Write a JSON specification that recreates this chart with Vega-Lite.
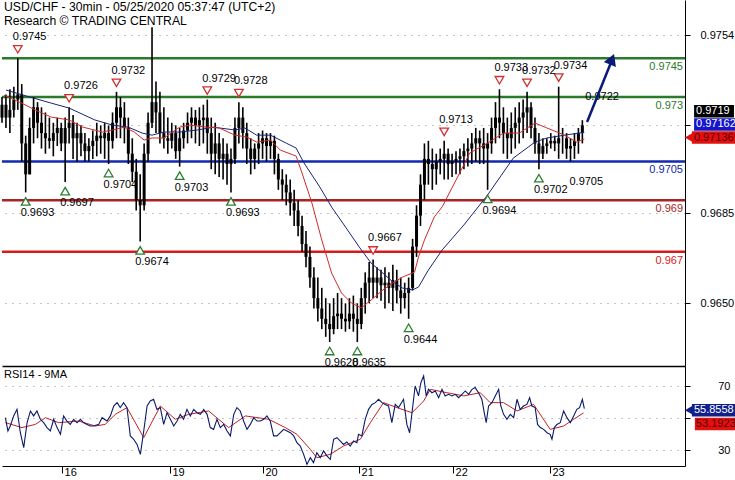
{
  "$schema": "https://vega.github.io/schema/vega-lite/v6.json",
  "padding": 0,
  "spacing": 0,
  "bounds": "flush",
  "config": {
    "view": {"stroke": null},
    "font": "Liberation Sans",
    "axis": {"labelFont": "Liberation Sans", "labelFontSize": 11, "labelColor": "black", "domainColor": "black", "tickColor": "black"},
    "text": {"font": "Liberation Sans", "fontSize": 11}
  },
  "datasets": {
    "ohlc": [
      {"t":0,"o":0.9722,"h":0.9730,"l":0.9720,"c":0.9727},
      {"t":2,"o":0.9727,"h":0.9731,"l":0.9718,"c":0.9722},
      {"t":4,"o":0.9722,"h":0.9733,"l":0.9716,"c":0.9725},
      {"t":6,"o":0.9725,"h":0.9734,"l":0.9722,"c":0.9729},
      {"t":8,"o":0.9729,"h":0.9745,"l":0.9725,"c":0.9731},
      {"t":10,"o":0.9731,"h":0.9735,"l":0.9705,"c":0.9712},
      {"t":12,"o":0.9712,"h":0.9715,"l":0.9693,"c":0.9700},
      {"t":14,"o":0.9700,"h":0.9722,"l":0.9700,"c":0.9718},
      {"t":16,"o":0.9718,"h":0.9730,"l":0.9712,"c":0.9726},
      {"t":18,"o":0.9726,"h":0.9728,"l":0.9714,"c":0.9720},
      {"t":20,"o":0.9720,"h":0.9726,"l":0.9710,"c":0.9716},
      {"t":22,"o":0.9716,"h":0.9724,"l":0.9708,"c":0.9714},
      {"t":24,"o":0.9714,"h":0.9722,"l":0.9710,"c":0.9713},
      {"t":26,"o":0.9713,"h":0.9720,"l":0.9707,"c":0.9716},
      {"t":28,"o":0.9716,"h":0.9722,"l":0.9711,"c":0.9718},
      {"t":30,"o":0.9718,"h":0.9720,"l":0.9709,"c":0.9712},
      {"t":32,"o":0.9712,"h":0.9722,"l":0.9697,"c":0.9718},
      {"t":34,"o":0.9718,"h":0.9726,"l":0.9712,"c":0.9720},
      {"t":36,"o":0.9720,"h":0.9723,"l":0.9706,"c":0.9714},
      {"t":38,"o":0.9714,"h":0.9720,"l":0.9705,"c":0.9716},
      {"t":40,"o":0.9716,"h":0.9719,"l":0.9707,"c":0.9712},
      {"t":42,"o":0.9712,"h":0.9716,"l":0.9705,"c":0.9709},
      {"t":44,"o":0.9709,"h":0.9714,"l":0.9705,"c":0.9711},
      {"t":46,"o":0.9711,"h":0.9717,"l":0.9706,"c":0.9713},
      {"t":48,"o":0.9713,"h":0.9720,"l":0.9707,"c":0.9715},
      {"t":50,"o":0.9715,"h":0.9719,"l":0.9708,"c":0.9714},
      {"t":52,"o":0.9714,"h":0.9720,"l":0.9706,"c":0.9716},
      {"t":54,"o":0.9716,"h":0.9719,"l":0.9704,"c":0.9713},
      {"t":56,"o":0.9713,"h":0.9724,"l":0.9710,"c":0.9720},
      {"t":58,"o":0.9720,"h":0.9732,"l":0.9714,"c":0.9726},
      {"t":60,"o":0.9726,"h":0.9730,"l":0.9714,"c":0.9722},
      {"t":62,"o":0.9722,"h":0.9728,"l":0.9712,"c":0.9718},
      {"t":64,"o":0.9718,"h":0.9722,"l":0.9704,"c":0.9708},
      {"t":66,"o":0.9708,"h":0.9714,"l":0.9697,"c":0.9701},
      {"t":68,"o":0.9701,"h":0.9706,"l":0.9686,"c":0.9690},
      {"t":70,"o":0.9690,"h":0.9700,"l":0.9674,"c":0.9688},
      {"t":72,"o":0.9688,"h":0.9712,"l":0.9686,"c":0.9708},
      {"t":74,"o":0.9708,"h":0.9724,"l":0.9705,"c":0.9720},
      {"t":76,"o":0.9720,"h":0.9757,"l":0.9718,"c":0.9728},
      {"t":78,"o":0.9728,"h":0.9736,"l":0.9716,"c":0.9724},
      {"t":80,"o":0.9724,"h":0.9732,"l":0.9712,"c":0.9716},
      {"t":82,"o":0.9716,"h":0.9726,"l":0.9710,"c":0.9714},
      {"t":84,"o":0.9714,"h":0.9722,"l":0.9708,"c":0.9713},
      {"t":86,"o":0.9713,"h":0.9720,"l":0.9710,"c":0.9716},
      {"t":88,"o":0.9716,"h":0.9719,"l":0.9706,"c":0.9709},
      {"t":90,"o":0.9709,"h":0.9718,"l":0.9703,"c":0.9714},
      {"t":92,"o":0.9714,"h":0.9720,"l":0.9710,"c":0.9717},
      {"t":94,"o":0.9717,"h":0.9724,"l":0.9712,"c":0.9720},
      {"t":96,"o":0.9720,"h":0.9726,"l":0.9714,"c":0.9722},
      {"t":98,"o":0.9722,"h":0.9725,"l":0.9712,"c":0.9719},
      {"t":100,"o":0.9719,"h":0.9726,"l":0.9711,"c":0.9721},
      {"t":102,"o":0.9721,"h":0.9727,"l":0.9712,"c":0.9722},
      {"t":104,"o":0.9722,"h":0.9729,"l":0.9708,"c":0.9716},
      {"t":106,"o":0.9716,"h":0.9722,"l":0.9702,"c":0.9708},
      {"t":108,"o":0.9708,"h":0.9720,"l":0.9700,"c":0.9712},
      {"t":110,"o":0.9712,"h":0.9716,"l":0.9699,"c":0.9706},
      {"t":112,"o":0.9706,"h":0.9714,"l":0.9698,"c":0.9708},
      {"t":114,"o":0.9708,"h":0.9712,"l":0.9696,"c":0.9704},
      {"t":116,"o":0.9704,"h":0.9710,"l":0.9693,"c":0.9706},
      {"t":118,"o":0.9706,"h":0.9722,"l":0.9704,"c":0.9718},
      {"t":120,"o":0.9718,"h":0.9728,"l":0.9712,"c":0.9722},
      {"t":122,"o":0.9722,"h":0.9726,"l":0.9710,"c":0.9716},
      {"t":124,"o":0.9716,"h":0.9720,"l":0.9704,"c":0.9710},
      {"t":126,"o":0.9710,"h":0.9714,"l":0.9700,"c":0.9706},
      {"t":128,"o":0.9706,"h":0.9712,"l":0.9702,"c":0.9710},
      {"t":130,"o":0.9710,"h":0.9716,"l":0.9704,"c":0.9712},
      {"t":132,"o":0.9712,"h":0.9717,"l":0.9706,"c":0.9714},
      {"t":134,"o":0.9714,"h":0.9716,"l":0.9705,"c":0.9711},
      {"t":136,"o":0.9711,"h":0.9716,"l":0.9706,"c":0.9713},
      {"t":138,"o":0.9713,"h":0.9715,"l":0.9700,"c":0.9706},
      {"t":140,"o":0.9706,"h":0.9708,"l":0.9694,"c":0.9698},
      {"t":142,"o":0.9698,"h":0.9702,"l":0.9690,"c":0.9696},
      {"t":144,"o":0.9696,"h":0.9700,"l":0.9688,"c":0.9693},
      {"t":146,"o":0.9693,"h":0.9698,"l":0.9684,"c":0.9689},
      {"t":148,"o":0.9689,"h":0.9694,"l":0.9680,"c":0.9686},
      {"t":150,"o":0.9686,"h":0.9690,"l":0.9676,"c":0.9680},
      {"t":152,"o":0.9680,"h":0.9684,"l":0.9670,"c":0.9673},
      {"t":154,"o":0.9673,"h":0.9678,"l":0.9664,"c":0.9668},
      {"t":156,"o":0.9668,"h":0.9672,"l":0.9656,"c":0.9660},
      {"t":158,"o":0.9660,"h":0.9664,"l":0.9648,"c":0.9652},
      {"t":160,"o":0.9652,"h":0.9660,"l":0.9643,"c":0.9648},
      {"t":162,"o":0.9648,"h":0.9656,"l":0.9640,"c":0.9644},
      {"t":164,"o":0.9644,"h":0.9652,"l":0.9637,"c":0.9642},
      {"t":166,"o":0.9642,"h":0.9650,"l":0.9635,"c":0.9640},
      {"t":168,"o":0.9640,"h":0.9652,"l":0.9638,"c":0.9645},
      {"t":170,"o":0.9645,"h":0.9654,"l":0.9640,"c":0.9646},
      {"t":172,"o":0.9646,"h":0.9652,"l":0.9640,"c":0.9644},
      {"t":174,"o":0.9644,"h":0.9650,"l":0.9639,"c":0.9643},
      {"t":176,"o":0.9643,"h":0.9652,"l":0.9640,"c":0.9646},
      {"t":178,"o":0.9646,"h":0.9653,"l":0.9639,"c":0.9644},
      {"t":180,"o":0.9644,"h":0.9650,"l":0.9635,"c":0.9642},
      {"t":182,"o":0.9642,"h":0.9656,"l":0.9640,"c":0.9652},
      {"t":184,"o":0.9652,"h":0.9662,"l":0.9646,"c":0.9658},
      {"t":186,"o":0.9658,"h":0.9666,"l":0.9650,"c":0.9660},
      {"t":188,"o":0.9660,"h":0.9667,"l":0.9652,"c":0.9658},
      {"t":190,"o":0.9658,"h":0.9664,"l":0.9652,"c":0.9660},
      {"t":192,"o":0.9660,"h":0.9663,"l":0.9651,"c":0.9657},
      {"t":194,"o":0.9657,"h":0.9664,"l":0.9648,"c":0.9658},
      {"t":196,"o":0.9658,"h":0.9662,"l":0.9650,"c":0.9656},
      {"t":198,"o":0.9656,"h":0.9665,"l":0.9647,"c":0.9659},
      {"t":200,"o":0.9659,"h":0.9663,"l":0.9650,"c":0.9655},
      {"t":202,"o":0.9655,"h":0.9660,"l":0.9646,"c":0.9652},
      {"t":204,"o":0.9652,"h":0.9658,"l":0.9648,"c":0.9654},
      {"t":206,"o":0.9654,"h":0.9660,"l":0.9644,"c":0.9656},
      {"t":208,"o":0.9656,"h":0.9675,"l":0.9655,"c":0.9672},
      {"t":210,"o":0.9672,"h":0.9688,"l":0.9668,"c":0.9684},
      {"t":212,"o":0.9684,"h":0.9700,"l":0.9680,"c":0.9696},
      {"t":214,"o":0.9696,"h":0.9712,"l":0.9690,"c":0.9706},
      {"t":216,"o":0.9706,"h":0.9713,"l":0.9696,"c":0.9704},
      {"t":218,"o":0.9704,"h":0.9710,"l":0.9694,"c":0.9702},
      {"t":220,"o":0.9702,"h":0.9708,"l":0.9696,"c":0.9705},
      {"t":222,"o":0.9705,"h":0.9710,"l":0.9700,"c":0.9706},
      {"t":224,"o":0.9706,"h":0.9713,"l":0.9698,"c":0.9708},
      {"t":226,"o":0.9708,"h":0.9710,"l":0.9698,"c":0.9704},
      {"t":228,"o":0.9704,"h":0.9708,"l":0.9699,"c":0.9705},
      {"t":230,"o":0.9705,"h":0.9709,"l":0.9700,"c":0.9706},
      {"t":232,"o":0.9706,"h":0.9710,"l":0.9700,"c":0.9707},
      {"t":234,"o":0.9707,"h":0.9712,"l":0.9702,"c":0.9709},
      {"t":236,"o":0.9709,"h":0.9714,"l":0.9703,"c":0.9710},
      {"t":238,"o":0.9710,"h":0.9716,"l":0.9704,"c":0.9712},
      {"t":240,"o":0.9712,"h":0.9718,"l":0.9705,"c":0.9714},
      {"t":242,"o":0.9714,"h":0.9717,"l":0.9704,"c":0.9712},
      {"t":244,"o":0.9712,"h":0.9718,"l":0.9704,"c":0.9710},
      {"t":246,"o":0.9710,"h":0.9716,"l":0.9694,"c":0.9712},
      {"t":248,"o":0.9712,"h":0.9722,"l":0.9708,"c":0.9718},
      {"t":250,"o":0.9718,"h":0.9728,"l":0.9712,"c":0.9722},
      {"t":252,"o":0.9722,"h":0.9733,"l":0.9714,"c":0.9720},
      {"t":254,"o":0.9720,"h":0.9726,"l":0.9708,"c":0.9716},
      {"t":256,"o":0.9716,"h":0.9722,"l":0.9706,"c":0.9714},
      {"t":258,"o":0.9714,"h":0.9724,"l":0.9708,"c":0.9718},
      {"t":260,"o":0.9718,"h":0.9726,"l":0.9710,"c":0.9720},
      {"t":262,"o":0.9720,"h":0.9728,"l":0.9712,"c":0.9722},
      {"t":264,"o":0.9722,"h":0.9729,"l":0.9714,"c":0.9724},
      {"t":266,"o":0.9724,"h":0.9732,"l":0.9716,"c":0.9726},
      {"t":268,"o":0.9726,"h":0.9728,"l":0.9714,"c":0.9718},
      {"t":270,"o":0.9718,"h":0.9722,"l":0.9708,"c":0.9712},
      {"t":272,"o":0.9712,"h":0.9716,"l":0.9702,"c":0.9708},
      {"t":274,"o":0.9708,"h":0.9714,"l":0.9706,"c":0.9711},
      {"t":276,"o":0.9711,"h":0.9714,"l":0.9708,"c":0.9712},
      {"t":278,"o":0.9712,"h":0.9716,"l":0.9710,"c":0.9713},
      {"t":280,"o":0.9713,"h":0.9715,"l":0.9709,"c":0.9712},
      {"t":282,"o":0.9712,"h":0.9734,"l":0.9706,"c":0.9714},
      {"t":284,"o":0.9714,"h":0.9718,"l":0.9708,"c":0.9714},
      {"t":286,"o":0.9714,"h":0.9716,"l":0.9706,"c":0.9710},
      {"t":288,"o":0.9710,"h":0.9714,"l":0.9705,"c":0.9711},
      {"t":290,"o":0.9711,"h":0.9716,"l":0.9706,"c":0.9713},
      {"t":292,"o":0.9713,"h":0.9718,"l":0.9708,"c":0.9716},
      {"t":294,"o":0.9716,"h":0.9721,"l":0.9712,"c":0.9719}
    ],
    "mafast": [
      {"t":1,"v":0.97307},{"t":10,"v":0.97276},{"t":17,"v":0.97249},{"t":25,"v":0.97222},{"t":34,"v":0.97211},
      {"t":41,"v":0.97183},{"t":51,"v":0.97164},{"t":56,"v":0.97172},{"t":62,"v":0.97183},{"t":67,"v":0.97164},
      {"t":72,"v":0.97133},{"t":76,"v":0.97141},{"t":82,"v":0.97141},{"t":90,"v":0.97183},{"t":95,"v":0.97191},
      {"t":104,"v":0.97183},{"t":110,"v":0.9718},{"t":118,"v":0.97152},{"t":124,"v":0.97145},{"t":129,"v":0.97125},
      {"t":136,"v":0.97133},{"t":141,"v":0.97094},{"t":149,"v":0.97071},{"t":152,"v":0.97005},{"t":157,"v":0.96889},
      {"t":162,"v":0.96745},{"t":167,"v":0.96617},{"t":172,"v":0.9654},{"t":177,"v":0.96501},{"t":182,"v":0.96482},
      {"t":187,"v":0.96513},{"t":193,"v":0.96552},{"t":198,"v":0.96579},{"t":203,"v":0.96602},{"t":209,"v":0.96621},
      {"t":211,"v":0.9668},{"t":214,"v":0.96745},{"t":219,"v":0.96835},{"t":223,"v":0.96874},{"t":230,"v":0.96978},
      {"t":237,"v":0.97083},{"t":246,"v":0.97121},{"t":254,"v":0.9716},{"t":262,"v":0.9716},{"t":270,"v":0.97199},
      {"t":276,"v":0.9718},{"t":285,"v":0.97152},{"t":291,"v":0.97125},{"t":295,"v":0.97137}
    ],
    "maslow": [
      {"t":2,"v":0.97327},{"t":14,"v":0.973},{"t":25,"v":0.97276},{"t":34,"v":0.97257},{"t":47,"v":0.97211},
      {"t":56,"v":0.97191},{"t":64,"v":0.97183},{"t":71,"v":0.9716},{"t":76,"v":0.97152},{"t":82,"v":0.97164},
      {"t":90,"v":0.97164},{"t":99,"v":0.97172},{"t":107,"v":0.97183},{"t":118,"v":0.97172},{"t":123,"v":0.9718},
      {"t":129,"v":0.97152},{"t":136,"v":0.97152},{"t":144,"v":0.97121},{"t":149,"v":0.97102},{"t":153,"v":0.97044},
      {"t":161,"v":0.96951},{"t":167,"v":0.96873},{"t":174,"v":0.96796},{"t":181,"v":0.96718},{"t":187,"v":0.96656},
      {"t":193,"v":0.96617},{"t":198,"v":0.96583},{"t":203,"v":0.96559},{"t":208,"v":0.96552},{"t":211,"v":0.96563},
      {"t":216,"v":0.96629},{"t":223,"v":0.96707},{"t":234,"v":0.96804},{"t":246,"v":0.9692},{"t":253,"v":0.96997},
      {"t":259,"v":0.97063},{"t":270,"v":0.97125},{"t":276,"v":0.97141},{"t":285,"v":0.97152},{"t":295,"v":0.97163}
    ],
    "levels": [
      {"p":0.9745,"lab":"0.9745","k":"resistance"},
      {"p":0.973,"lab":"0.973","k":"resistance"},
      {"p":0.9705,"lab":"0.9705","k":"pivot"},
      {"p":0.969,"lab":"0.969","k":"support1"},
      {"p":0.967,"lab":"0.967","k":"support2"}
    ],
    "ann": [
      {"t":8,"p":0.9745,"lab":"0.9745","kind":"high"},
      {"t":12,"p":0.9693,"lab":"0.9693","kind":"low"},
      {"t":34,"p":0.9726,"lab":"0.9726","kind":"high"},
      {"t":32,"p":0.9697,"lab":"0.9697","kind":"low"},
      {"t":58,"p":0.9732,"lab":"0.9732","kind":"high"},
      {"t":54,"p":0.9704,"lab":"0.9704","kind":"low"},
      {"t":70,"p":0.9674,"lab":"0.9674","kind":"low"},
      {"t":90,"p":0.9703,"lab":"0.9703","kind":"low"},
      {"t":104,"p":0.9729,"lab":"0.9729","kind":"high"},
      {"t":120,"p":0.9728,"lab":"0.9728","kind":"high"},
      {"t":116,"p":0.9693,"lab":"0.9693","kind":"low"},
      {"t":166,"p":0.9635,"lab":"0.9628","kind":"low"},
      {"t":180,"p":0.9635,"lab":"0.9635","kind":"low"},
      {"t":188,"p":0.9667,"lab":"0.9667","kind":"high"},
      {"t":206,"p":0.9644,"lab":"0.9644","kind":"low"},
      {"t":224,"p":0.9713,"lab":"0.9713","kind":"high"},
      {"t":246,"p":0.9694,"lab":"0.9694","kind":"low"},
      {"t":252,"p":0.9733,"lab":"0.9733","kind":"high"},
      {"t":266,"p":0.9732,"lab":"0.9732","kind":"high"},
      {"t":272,"p":0.9702,"lab":"0.9702","kind":"low"},
      {"t":282,"p":0.9734,"lab":"0.9734","kind":"high"},
      {"t":298,"p":0.9722,"lab":"0.9722","kind":"hightext"},
      {"t":290,"p":0.9705,"lab":"0.9705","kind":"lowtext"}
    ],
    "rsi": [
      {"t":1.7,"v":50.2},{"t":3,"v":41.9},{"t":4.2,"v":45},{"t":5.9,"v":51.3},{"t":7.6,"v":55.4},{"t":9.3,"v":40.8},
      {"t":11,"v":31.5},{"t":12.7,"v":47},{"t":14.4,"v":54.4},{"t":16,"v":51.3},{"t":17.7,"v":54.4},{"t":19.4,"v":49.2},
      {"t":21.1,"v":47.1},{"t":22.8,"v":44},{"t":24.5,"v":41.9},{"t":26.2,"v":49.2},{"t":27.9,"v":44},{"t":29.6,"v":39.8},
      {"t":31.2,"v":51.3},{"t":32.9,"v":48.1},{"t":34.6,"v":46},{"t":36.3,"v":49.2},{"t":38,"v":47},{"t":39.7,"v":49.2},
      {"t":41.4,"v":47},{"t":43.1,"v":46},{"t":44.7,"v":45},{"t":46.4,"v":45},{"t":49,"v":46},{"t":50.7,"v":50.2},
      {"t":53.2,"v":48.1},{"t":54.9,"v":51.3},{"t":56.6,"v":57.5},{"t":58.3,"v":59.6},{"t":59.9,"v":56.5},{"t":61.6,"v":59.6},
      {"t":63.3,"v":56.5},{"t":65,"v":38.8},{"t":66.7,"v":36.7},{"t":68.4,"v":33.5},{"t":70.1,"v":27.3},{"t":71.8,"v":41.9},
      {"t":73.5,"v":57.5},{"t":75.1,"v":60.6},{"t":76.8,"v":61.7},{"t":78.5,"v":55.4},{"t":80.2,"v":56.5},{"t":81.9,"v":46},
      {"t":83.6,"v":53.3},{"t":85.3,"v":49.2},{"t":87,"v":45},{"t":88.7,"v":48.1},{"t":90.3,"v":52.3},{"t":92,"v":49.2},
      {"t":93.7,"v":55.4},{"t":95.4,"v":51.3},{"t":97.1,"v":55.4},{"t":98.8,"v":53.3},{"t":100.5,"v":52.3},{"t":102.2,"v":55.4},
      {"t":103.9,"v":52.3},{"t":105.5,"v":44},{"t":107.2,"v":42.9},{"t":108.9,"v":49.2},{"t":110.6,"v":44},{"t":112.3,"v":46},
      {"t":114,"v":41.9},{"t":115.7,"v":38.8},{"t":117.4,"v":52.3},{"t":119,"v":56.5},{"t":120.7,"v":54.4},{"t":122.4,"v":48.1},
      {"t":124.1,"v":42.9},{"t":125.8,"v":46},{"t":127.5,"v":50.2},{"t":129.2,"v":48.1},{"t":130.9,"v":48.1},{"t":132.6,"v":49.2},
      {"t":134.2,"v":51.3},{"t":135.9,"v":48.1},{"t":137.6,"v":38.8},{"t":139.3,"v":38.8},{"t":141,"v":40.8},{"t":142.7,"v":42.9},
      {"t":144.4,"v":41.9},{"t":146.1,"v":40.8},{"t":147.8,"v":38.8},{"t":149.4,"v":34.6},{"t":151.1,"v":32.5},{"t":152.8,"v":27.3},
      {"t":154.5,"v":21},{"t":156.2,"v":25.2},{"t":157.8,"v":22.1},{"t":159.5,"v":28.3},{"t":161.2,"v":25.2},{"t":162.9,"v":29.4},
      {"t":164.6,"v":26.3},{"t":166.3,"v":24.2},{"t":168,"v":36.7},{"t":169.7,"v":37.7},{"t":171.4,"v":35.6},{"t":173,"v":33.5},
      {"t":174.7,"v":35},{"t":176.4,"v":32.5},{"t":178.1,"v":35.6},{"t":179.8,"v":34.6},{"t":180.6,"v":39.8},{"t":182.3,"v":38.8},
      {"t":184,"v":49.2},{"t":185.7,"v":55.4},{"t":187.4,"v":58.5},{"t":189.1,"v":59.6},{"t":190.8,"v":61.7},{"t":192.5,"v":59.6},
      {"t":194.1,"v":58.5},{"t":195.8,"v":57.5},{"t":197.5,"v":47.1},{"t":199.2,"v":58.5},{"t":200.9,"v":56.5},{"t":203.4,"v":61.7},
      {"t":205.1,"v":46},{"t":206.5,"v":40.8},{"t":207.7,"v":53.3},{"t":209.3,"v":70},{"t":211,"v":63.8},{"t":212.2,"v":72.1},
      {"t":213.6,"v":76.3},{"t":214.9,"v":63.8},{"t":216.1,"v":67.9},{"t":217.8,"v":65.8},{"t":219.5,"v":66.9},{"t":221.2,"v":62.7},
      {"t":222.9,"v":67.9},{"t":224.5,"v":63.8},{"t":226.2,"v":64.8},{"t":227.9,"v":63.8},{"t":229.6,"v":64.8},{"t":231.3,"v":62.7},
      {"t":233,"v":64.8},{"t":234.7,"v":66.9},{"t":236.4,"v":64.8},{"t":238.1,"v":67.9},{"t":239.7,"v":69},{"t":241.4,"v":65.8},
      {"t":243.1,"v":61.7},{"t":244.3,"v":53.3},{"t":245.3,"v":47.1},{"t":246.5,"v":57.5},{"t":248.2,"v":59.6},{"t":249.9,"v":63.8},
      {"t":251.6,"v":67.9},{"t":252.7,"v":57.5},{"t":254.1,"v":52.3},{"t":255.8,"v":49.2},{"t":257.5,"v":52.3},{"t":259.2,"v":50.2},
      {"t":260.9,"v":61.7},{"t":262.5,"v":55.4},{"t":264.2,"v":57.5},{"t":265.9,"v":58.5},{"t":267.3,"v":62.7},{"t":268.4,"v":57.5},
      {"t":270.1,"v":56.5},{"t":271.3,"v":46},{"t":272.7,"v":44},{"t":274.4,"v":42.9},{"t":276.1,"v":40.8},{"t":277.7,"v":39.8},
      {"t":278.6,"v":36.7},{"t":279.8,"v":44},{"t":281.1,"v":46},{"t":282.8,"v":47.1},{"t":284.5,"v":54.4},{"t":286.2,"v":50.2},
      {"t":287.9,"v":47.1},{"t":289.6,"v":51.3},{"t":291.2,"v":55.4},{"t":292.6,"v":56.5},{"t":294,"v":61.7},{"t":295,"v":55.9}
    ],
    "rsima": [
      {"t":1.7,"v":47.1},{"t":10.1,"v":44},{"t":16.9,"v":46},{"t":22,"v":50.2},{"t":28.7,"v":47.1},{"t":38.8,"v":48.1},
      {"t":47.3,"v":45},{"t":52.3,"v":46},{"t":57.4,"v":52.3},{"t":63.3,"v":56.5},{"t":71.8,"v":37.7},{"t":80.2,"v":57.5},
      {"t":87.8,"v":49.2},{"t":94.6,"v":52.3},{"t":104.7,"v":54.4},{"t":114.8,"v":44},{"t":123.3,"v":51.3},{"t":135.1,"v":49.2},
      {"t":143.5,"v":44},{"t":149.4,"v":39.8},{"t":156.2,"v":30.4},{"t":159.5,"v":25.2},{"t":166.3,"v":27.3},{"t":173,"v":32.5},
      {"t":181.5,"v":36.7},{"t":186.6,"v":47.1},{"t":193.3,"v":59.6},{"t":200.1,"v":56.5},{"t":207.7,"v":53.3},{"t":213.6,"v":60.6},
      {"t":217,"v":67.9},{"t":225.4,"v":65.8},{"t":233.9,"v":63.8},{"t":242.3,"v":65.8},{"t":247.3,"v":59.6},{"t":254.1,"v":59.6},
      {"t":260.9,"v":54.4},{"t":269.3,"v":58.5},{"t":277.7,"v":42.9},{"t":284.5,"v":45},{"t":289.6,"v":49.2},{"t":294.6,"v":53.2}
    ],
    "arrow": [
      {"t":296.4,"p":0.97203},{"t":308.3,"p":0.97430}
    ],
    "one": [{}]
  },
  "vconcat": [
    {
      "width": 683,
      "height": 366,
      "layer": [
        {
          "data": {"name": "levels"},
          "mark": {"type": "rule", "strokeWidth": 2.5},
          "encoding": {
            "y": {"field": "p", "type": "quantitative",
              "scale": {"domain": [0.96257, 0.97676], "zero": false, "nice": false},
              "axis": {"orient": "right", "values": [0.965, 0.9685, 0.9719, 0.9754],
                "labelExpr": "abs(datum.value - 0.9719) < 0.00001 ? '' : format(datum.value, '.4f')",
                "grid": true, "gridDash": [1, 6], "gridColor": "#8a8a8a", "tickSize": 5, "labelPadding": 10, "title": null}},
            "color": {"field": "k", "type": "nominal", "legend": null,
              "scale": {"domain": ["resistance", "pivot", "support1", "support2"], "range": ["#2b7a2b", "#1228b0", "#a82424", "#d41c1c"]}}
          }
        },
        {
          "data": {"name": "ohlc"},
          "mark": {"type": "rule", "color": "black", "strokeWidth": 1.6},
          "encoding": {
            "x": {"field": "t", "type": "quantitative", "scale": {"domain": [0, 346], "nice": false, "zero": false},
              "axis": {"labels": false, "ticks": false, "grid": false, "domain": true, "domainColor": "black", "domainWidth": 1.5, "title": null}},
            "y": {"field": "l", "type": "quantitative", "title": null},
            "y2": {"field": "h"}
          }
        },
        {
          "data": {"name": "levels"},
          "mark": {"type": "text", "align": "right", "baseline": "top", "dx": -2, "dy": 3, "fontSize": 11},
          "encoding": {
            "x": {"datum": 346, "type": "quantitative", "title": null},
            "y": {"field": "p", "type": "quantitative", "title": null},
            "text": {"field": "lab"},
            "color": {"field": "k", "type": "nominal", "legend": null}
          }
        },
        {
          "data": {"name": "ohlc"},
          "mark": {"type": "rule", "color": "black", "strokeWidth": 3},
          "encoding": {
            "x": {"field": "t", "type": "quantitative", "title": null},
            "y": {"field": "o", "type": "quantitative", "title": null},
            "y2": {"field": "c"}
          }
        },
        {
          "data": {"name": "maslow"},
          "mark": {"type": "line", "color": "#1a237e", "strokeWidth": 1},
          "encoding": {
            "x": {"field": "t", "type": "quantitative", "title": null},
            "y": {"field": "v", "type": "quantitative", "title": null}
          }
        },
        {
          "data": {"name": "mafast"},
          "mark": {"type": "line", "color": "#d22a2a", "strokeWidth": 1},
          "encoding": {
            "x": {"field": "t", "type": "quantitative", "title": null},
            "y": {"field": "v", "type": "quantitative", "title": null}
          }
        },
        {
          "data": {"name": "ann"},
          "transform": [{"filter": "datum.kind == 'high'"}],
          "mark": {"type": "point", "shape": "triangle-down", "size": 75, "filled": true, "fill": "white", "stroke": "#d03030", "strokeWidth": 1.3, "yOffset": -9, "opacity": 1},
          "encoding": {
            "x": {"field": "t", "type": "quantitative", "title": null},
            "y": {"field": "p", "type": "quantitative", "title": null}
          }
        },
        {
          "data": {"name": "ann"},
          "transform": [{"filter": "datum.kind == 'low'"}],
          "mark": {"type": "point", "shape": "triangle-up", "size": 75, "filled": true, "fill": "white", "stroke": "#2e7d32", "strokeWidth": 1.3, "yOffset": 9, "opacity": 1},
          "encoding": {
            "x": {"field": "t", "type": "quantitative", "title": null},
            "y": {"field": "p", "type": "quantitative", "title": null}
          }
        },
        {
          "data": {"name": "ann"},
          "transform": [{"filter": "datum.kind == 'high' || datum.kind == 'hightext'"}],
          "mark": {"type": "text", "align": "left", "baseline": "middle", "dx": -5, "yOffset": -21, "fontSize": 11, "color": "black", "clip": true},
          "encoding": {
            "x": {"field": "t", "type": "quantitative", "title": null},
            "y": {"field": "p", "type": "quantitative", "title": null},
            "text": {"field": "lab"}
          }
        },
        {
          "data": {"name": "ann"},
          "transform": [{"filter": "datum.kind == 'low' || datum.kind == 'lowtext'"}],
          "mark": {"type": "text", "align": "left", "baseline": "middle", "dx": -5, "yOffset": 21, "fontSize": 11, "color": "black", "clip": true},
          "encoding": {
            "x": {"field": "t", "type": "quantitative", "title": null},
            "y": {"field": "p", "type": "quantitative", "title": null},
            "text": {"field": "lab"}
          }
        },
        {
          "data": {"name": "arrow"},
          "mark": {"type": "line", "color": "#0b1a78", "strokeWidth": 2.5},
          "encoding": {
            "x": {"field": "t", "type": "quantitative", "title": null},
            "y": {"field": "p", "type": "quantitative", "title": null}
          }
        },
        {
          "data": {"name": "one"},
          "mark": {"type": "point", "shape": "triangle-up", "angle": 22, "size": 170, "filled": true, "color": "#0b1a78", "opacity": 1},
          "encoding": {
            "x": {"datum": 309, "type": "quantitative", "title": null},
            "y": {"datum": 0.97446, "type": "quantitative", "title": null}
          }
        },
        {
          "data": {"name": "one"},
          "mark": {"type": "text", "align": "left", "baseline": "top", "dx": 2, "dy": 1, "fontSize": 12.2, "lineHeight": 14, "color": "black"},
          "encoding": {
            "x": {"datum": 0, "type": "quantitative", "title": null},
            "y": {"datum": 0.97676, "type": "quantitative", "title": null},
            "text": {"value": ["USD/CHF - 30min - 05/25/2020 05:37:47 (UTC+2)", "Research © TRADING CENTRAL"]}
          }
        },
        {
          "data": {"name": "one"},
          "mark": {"type": "rule", "color": "black", "strokeWidth": 12.5, "yOffset": -14},
          "encoding": {
            "x": {"datum": 350.6, "type": "quantitative", "title": null},
            "x2": {"datum": 370.8},
            "y": {"datum": 0.9719, "type": "quantitative", "title": null}
          }
        },
        {
          "data": {"name": "one"},
          "mark": {"type": "text", "align": "left", "baseline": "middle", "dx": 2, "yOffset": -14, "fontSize": 11, "color": "white"},
          "encoding": {
            "x": {"datum": 350.6, "type": "quantitative", "title": null},
            "y": {"datum": 0.9719, "type": "quantitative", "title": null},
            "text": {"value": "0.9719"}
          }
        },
        {
          "data": {"name": "one"},
          "mark": {"type": "rule", "color": "#1616c8", "strokeWidth": 12.5, "yOffset": -8},
          "encoding": {
            "x": {"datum": 350.6, "type": "quantitative", "title": null},
            "x2": {"datum": 372.5},
            "y": {"datum": 0.971625, "type": "quantitative", "title": null}
          }
        },
        {
          "data": {"name": "one"},
          "mark": {"type": "text", "align": "left", "baseline": "middle", "dx": 2, "yOffset": -8, "fontSize": 11, "color": "white"},
          "encoding": {
            "x": {"datum": 350.6, "type": "quantitative", "title": null},
            "y": {"datum": 0.971625, "type": "quantitative", "title": null},
            "text": {"value": "0.971625"}
          }
        },
        {
          "data": {"name": "one"},
          "mark": {"type": "rule", "color": "#e31010", "strokeWidth": 12.5, "yOffset": -1.5},
          "encoding": {
            "x": {"datum": 349.5, "type": "quantitative", "title": null},
            "x2": {"datum": 372.5},
            "y": {"datum": 0.971369, "type": "quantitative", "title": null}
          }
        },
        {
          "data": {"name": "one"},
          "mark": {"type": "point", "shape": "triangle-left", "size": 90, "filled": true, "color": "#e31010", "opacity": 1, "yOffset": -1.5, "xOffset": -1},
          "encoding": {
            "x": {"datum": 348.5, "type": "quantitative", "title": null},
            "y": {"datum": 0.971369, "type": "quantitative", "title": null}
          }
        },
        {
          "data": {"name": "one"},
          "mark": {"type": "text", "align": "left", "baseline": "middle", "dx": 2, "yOffset": -1.5, "fontSize": 11, "color": "#5a0000"},
          "encoding": {
            "x": {"datum": 349.5, "type": "quantitative", "title": null},
            "y": {"datum": 0.971369, "type": "quantitative", "title": null},
            "text": {"value": "0.971369"}
          }
        }
      ]
    },
    {
      "width": 683,
      "height": 100,
      "layer": [
        {
          "data": {"name": "rsima"},
          "mark": {"type": "line", "color": "#c42020", "strokeWidth": 1},
          "encoding": {
            "x": {"field": "t", "type": "quantitative", "scale": {"domain": [0, 346], "nice": false, "zero": false},
              "axis": {"values": [30.4, 85.1, 132.2, 180.9, 228.5, 277.6],
                "labelExpr": "datum.value < 50 ? '16' : datum.value < 100 ? '19' : datum.value < 150 ? '20' : datum.value < 200 ? '21' : datum.value < 250 ? '22' : '23'",
                "labelAlign": "left", "labelBaseline": "top", "labelPadding": -7, "labelOffset": 2, "tickSize": 7,
                "grid": false, "title": null, "domainColor": "black"}},
            "y": {"field": "v", "type": "quantitative",
              "scale": {"domain": [20, 82.5], "zero": false, "nice": false},
              "axis": {"orient": "right", "values": [30, 50, 70],
                "labelExpr": "datum.value == 50 ? '' : datum.label",
                "labelAlign": "right", "labelPadding": 40,
                "grid": true, "gridDash": [1, 6], "gridColor": "#8a8a8a", "tickSize": 5, "title": null}}
          }
        },
        {
          "data": {"name": "rsi"},
          "mark": {"type": "line", "color": "#0a1a6a", "strokeWidth": 1.1},
          "encoding": {
            "x": {"field": "t", "type": "quantitative", "title": null},
            "y": {"field": "v", "type": "quantitative", "title": null}
          }
        },
        {
          "data": {"name": "one"},
          "mark": {"type": "text", "align": "left", "baseline": "top", "dx": 2, "dy": 3, "fontSize": 11, "color": "black"},
          "encoding": {
            "x": {"datum": 0, "type": "quantitative", "title": null},
            "y": {"datum": 82.5, "type": "quantitative", "title": null},
            "text": {"value": "RSI14 - 9MA"}
          }
        },
        {
          "data": {"name": "one"},
          "mark": {"type": "rule", "color": "#10208a", "strokeWidth": 12.5, "yOffset": 1.5},
          "encoding": {
            "x": {"datum": 349.5, "type": "quantitative", "title": null},
            "x2": {"datum": 372.5},
            "y": {"datum": 55.8558, "type": "quantitative", "title": null}
          }
        },
        {
          "data": {"name": "one"},
          "mark": {"type": "point", "shape": "triangle-left", "size": 90, "filled": true, "color": "#10208a", "opacity": 1, "yOffset": 1.5, "xOffset": -1},
          "encoding": {
            "x": {"datum": 348.5, "type": "quantitative", "title": null},
            "y": {"datum": 55.8558, "type": "quantitative", "title": null}
          }
        },
        {
          "data": {"name": "one"},
          "mark": {"type": "text", "align": "left", "baseline": "middle", "dx": 2, "yOffset": 1.5, "fontSize": 11, "color": "white"},
          "encoding": {
            "x": {"datum": 349.5, "type": "quantitative", "title": null},
            "y": {"datum": 55.8558, "type": "quantitative", "title": null},
            "text": {"value": "55.8558"}
          }
        },
        {
          "data": {"name": "one"},
          "mark": {"type": "rule", "color": "#e31010", "strokeWidth": 12.5, "yOffset": 11},
          "encoding": {
            "x": {"datum": 351, "type": "quantitative", "title": null},
            "x2": {"datum": 372.5},
            "y": {"datum": 53.1923, "type": "quantitative", "title": null}
          }
        },
        {
          "data": {"name": "one"},
          "mark": {"type": "text", "align": "left", "baseline": "middle", "dx": 1, "yOffset": 11, "fontSize": 11, "color": "#5a0000"},
          "encoding": {
            "x": {"datum": 351, "type": "quantitative", "title": null},
            "y": {"datum": 53.1923, "type": "quantitative", "title": null},
            "text": {"value": "53.1923"}
          }
        }
      ]
    }
  ]
}
